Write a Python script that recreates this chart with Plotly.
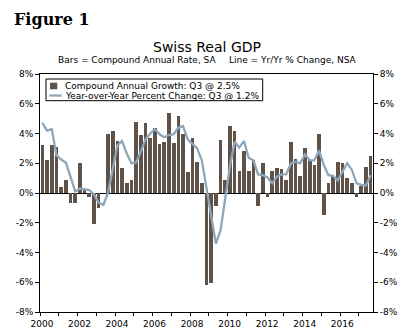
import plotly.graph_objects as go
import pandas as pd

# ---- data ----
quarters = [str(p) for p in pd.period_range("2000Q1", "2017Q3", freq="Q")]
compound_annual = [3.2, 2.2, 3.2, 3.1, 0.4, 0.9, -0.7, -0.7, 2.05, 0.2,
                   -0.25, -2.1, -1.0, 0.0, 4.0, 4.15, 3.5, 1.7, 0.65, 0.9,
                   4.8, 3.9, 4.7, 3.7, 4.4, 3.3, 3.4, 5.4, 3.35, 5.15,
                   4.0, 1.4, 3.7, 2.1, 0.65, -6.2, -6.05, -0.9, 3.55, 0.9,
                   4.5, 4.2, 1.5, 2.8, 1.5, 2.25, -0.85, 2.05, -0.25, 1.5,
                   1.7, 1.6, 0.9, 3.4, 2.3, 1.15, 3.0, 2.2, 1.9, 4.0,
                   -1.5, 0.65, 1.15, 2.1, 2.05, 1.0, 0.65, -0.3, 0.5, 1.75,
                   2.5]
yoy_change = [4.72, 4.2, 4.3, 2.55, 2.25, 2.05, 1.1, 0.1, 0.3, 0.25,
              0.2, -0.1, -0.65, -0.8, 0.0, 1.6, 3.2, 3.5, 2.65, 2.0,
              2.05, 2.8, 3.6, 4.0, 4.3, 3.95, 3.75, 3.9, 3.95, 4.4,
              4.5, 3.6, 3.3, 3.0, 2.2, 0.4, -1.5, -3.4, -2.5, -0.3,
              1.8, 3.45, 3.05, 3.5, 2.35, 2.2, 1.25, 1.2, 1.05, 0.65,
              1.1, 1.25, 1.25, 2.0, 2.1, 2.0, 2.6, 2.2, 2.2, 2.85,
              1.9, 1.2, 1.15, 0.85, 1.45, 2.0, 1.55, 0.65, 0.55, 0.5,
              1.2]
y_tickvals = [-8, -6, -4, -2, 0, 2, 4, 6, 8]
y_ticktext = ["-8%", "-6%", "-4%", "-2%", "0%", "2%", "4%", "6%", "8%"]
x_tickvals = list(range(2000, 2018))
x_ticktext = [str(y) if y % 2 == 0 else "" for y in x_tickvals]

x_pos = [int(q[:4]) + (int(q[-1]) - 0.5) / 4 for q in quarters]

BAR_COLOR = "#5E5249"
LINE_COLOR = "#8DA6BA"
FONT = "DejaVu Sans"

W, H = 417, 334
ML, MR, MT, MB = 40, 44, 74, 22
PW, PH = W - ML - MR, H - MT - MB


def px(x):
    return (x - ML) / PW


def py(y):
    return (H - MB - y) / PH


fig = go.Figure()
fig.add_trace(go.Bar(x=x_pos, y=compound_annual, width=0.195,
                     marker=dict(color=BAR_COLOR, line=dict(width=0)),
                     name="Compound Annual Growth: Q3 @ 2.5%", showlegend=False))
fig.add_trace(go.Scatter(x=x_pos, y=yoy_change, mode="lines", yaxis="y2",
                         line=dict(color=LINE_COLOR, width=2.3),
                         name="Year-over-Year Percent Change: Q3 @ 1.2%",
                         showlegend=False))

axis_common = dict(range=[-8, 8], tickvals=y_tickvals, ticktext=y_ticktext,
                   showgrid=False, showline=True, linecolor="black", linewidth=1,
                   ticks="outside", ticklen=4, tickcolor="black", automargin=False,
                   tickfont=dict(family=FONT, size=9, color="black"), fixedrange=True)

fig.update_layout(
    width=W, height=H,
    margin=dict(l=ML, r=MR, t=MT, b=MB, pad=0, autoexpand=False),
    paper_bgcolor="white", plot_bgcolor="white",
    showlegend=False,
    bargap=0,
    xaxis=dict(range=[2000, 2017.75], tickvals=x_tickvals, ticktext=x_ticktext,
               showgrid=False, showline=True, mirror=True, linecolor="black",
               linewidth=1, ticks="outside", ticklen=3, tickcolor="black",
               tickfont=dict(family=FONT, size=9, color="black"), automargin=False,
               ticklabelshift=2, zeroline=False),
    yaxis=dict(**axis_common, side="left", zeroline=True, zerolinecolor="black",
               zerolinewidth=1),
    yaxis2=dict(**axis_common, side="right", overlaying="y", zeroline=False),
)

annotations = [
    dict(text="<b>Figure 1</b>", x=px(12), y=py(20), xanchor="left", yanchor="middle",
         font=dict(family="DejaVu Serif", size=16, color="black")),
    dict(text="Swiss Real GDP", x=px(206.5), y=py(47), xanchor="center", yanchor="middle",
         font=dict(family=FONT, size=14, color="black")),
    dict(text="Bars = Compound Annual Rate, SA", x=px(136.7), y=py(60.5),
         xanchor="center", yanchor="middle", font=dict(family=FONT, size=9, color="black")),
    dict(text="Line = Yr/Yr % Change, NSA", x=px(293), y=py(60.5),
         xanchor="center", yanchor="middle", font=dict(family=FONT, size=9, color="black")),
    dict(text="Compound Annual Growth: Q3 @ 2.5%", x=px(62.5), y=py(86),
         xanchor="left", yanchor="middle", font=dict(family=FONT, size=9, color="black")),
    dict(text="Year-over-Year Percent Change: Q3 @ 1.2%", x=px(62.5), y=py(96),
         xanchor="left", yanchor="middle", font=dict(family=FONT, size=9, color="black")),
]
for a in annotations:
    a.update(xref="paper", yref="paper", showarrow=False)
fig.update_layout(annotations=annotations)

shapes = [
    dict(type="rect", x0=px(46), x1=px(262.7), y0=py(79), y1=py(100.7),
         line=dict(color="black", width=1), fillcolor="white", layer="above"),
    dict(type="rect", x0=px(50), x1=px(57.3), y0=py(82.7), y1=py(89.3),
         line=dict(width=0), fillcolor=BAR_COLOR, layer="above"),
    dict(type="line", x0=px(49.3), x1=px(61.7), y0=py(95.5), y1=py(95.5),
         line=dict(color=LINE_COLOR, width=2.3), layer="above"),
]
for s in shapes:
    s.update(xref="paper", yref="paper")
fig.update_layout(shapes=shapes)

fig.write_html("out.html")
